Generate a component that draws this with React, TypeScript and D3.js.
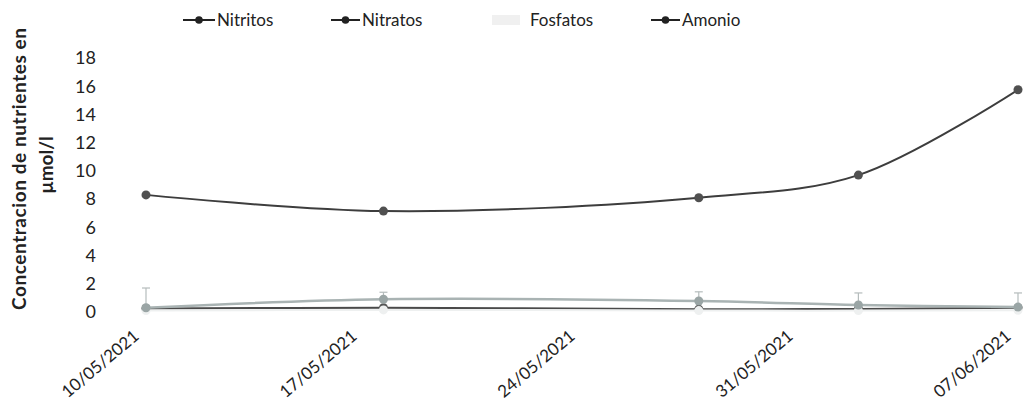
import React from "react";
import * as d3 from "d3";

const dates = ["2021-05-10T00:00", "2021-05-17T15:00", "2021-05-27T18:00", "2021-06-01T21:00", "2021-06-07T00:00"];
const tickDates = ["2021-05-10", "2021-05-17", "2021-05-24", "2021-05-31", "2021-06-07"];
const tickLabels = ["10/05/2021", "17/05/2021", "24/05/2021", "31/05/2021", "07/06/2021"];
const nitritos = [0.25, 0.3, 0.2, 0.22, 0.3];
const nitratos = [0.3, 0.9, 0.78, 0.5, 0.35];
const nitratosErr = [1.4, 0.5, 0.65, 0.85, 1.0];
const fosfatos = [0.1, 0.15, 0.1, 0.1, 0.12];
const amonio = [8.3, 7.15, 8.1, 9.7, 15.75];
const yTicks = [0, 2, 4, 6, 8, 10, 12, 14, 16, 18];

const W = 1024, H = 416;
const FONT = "Lato, 'Open Sans', sans-serif";

export default function App() {
  const parse = (s: string) => new Date(s);
  const x = d3.scaleTime().domain([parse(tickDates[0]), parse(tickDates[4])]).range([146, 1018]);
  const y = d3.scaleLinear().domain([0, 18]).range([312, 58]);
  const xs = dates.map(parse);
  const smooth = d3.line<number>().x((_, i) => x(xs[i])).y(d => y(d)).curve(d3.curveCatmullRom.alpha(0.5));

  const series = [
    { name: "Nitritos", vals: nitritos, color: "#4a4a4a", marker: "#555", w: 2 },
    { name: "Fosfatos", vals: fosfatos, color: "#eef0f0", marker: "#eef0f0", w: 2 },
    { name: "Nitratos", vals: nitratos, color: "#a9b3b3", marker: "#9aa5a5", w: 2.5 },
    { name: "Amonio", vals: amonio, color: "#3d3d3d", marker: "#505050", w: 2 },
  ];

  const legend = [
    { name: "Nitritos", lx: 183, tx: 217, color: "#222", line: true },
    { name: "Nitratos", lx: 331, tx: 362, color: "#222", line: true },
    { name: "Fosfatos", lx: 492, tx: 530, color: "#f0f0f0", line: false },
    { name: "Amonio", lx: 651, tx: 682, color: "#222", line: true },
  ];

  return (
    <svg width={W} height={H} style={{ position: "absolute", left: 0, top: 0, background: "#fff" }} fontFamily={FONT}>
      {/* legend */}
      {legend.map(l => (
        <g key={l.name}>
          {l.line ? (
            <g>
              <line x1={l.lx} x2={l.tx - 2} y1={20} y2={20} stroke={l.color} strokeWidth={2} />
              <circle cx={(l.lx + l.tx - 2) / 2} cy={20} r={3.8} fill={l.color} />
            </g>
          ) : (
            <rect x={l.lx} y={15} width={28} height={10} fill={l.color} />
          )}
          <text x={l.tx} y={26} fontSize={17} fill="#222">{l.name}</text>
        </g>
      ))}

      {/* y axis title */}
      <text transform={`translate(26,169) rotate(-90)`} textAnchor="middle" fontSize={19} fontWeight={700} fill="#222"
        textLength={282} lengthAdjust="spacing">
        Concentracion de nutrientes en
      </text>
      <text transform={`translate(53,165) rotate(-90)`} textAnchor="middle" fontSize={19} fontWeight={700} fill="#222">
        µmol/l
      </text>

      {/* y ticks */}
      {yTicks.map(t => (
        <text key={t} x={96} y={y(t)} dy="0.35em" textAnchor="end" fontSize={18} fill="#222">{t}</text>
      ))}

      {/* x tick labels */}
      {tickDates.map((d, i) => (
        <text key={d} transform={`translate(${x(parse(d)) - 6},${338}) rotate(-40)`} textAnchor="end" fontSize={17} fill="#222">
          {tickLabels[i]}
        </text>
      ))}

      {/* error bars for Nitratos */}
      {nitratos.map((v, i) => (
        <g key={"e" + i} stroke="#b5bcbc" strokeWidth={1.2}>
          <line x1={x(xs[i])} x2={x(xs[i])} y1={y(v)} y2={y(v + nitratosErr[i])} />
          <line x1={x(xs[i]) - 4} x2={x(xs[i]) + 4} y1={y(v + nitratosErr[i])} y2={y(v + nitratosErr[i])} />
        </g>
      ))}

      {/* series */}
      {series.map(s => (
        <g key={s.name}>
          <path d={smooth(s.vals) || ""} fill="none" stroke={s.color} strokeWidth={s.w} />
          {s.vals.map((v, i) => (
            <circle key={i} cx={x(xs[i])} cy={y(v)} r={4.5} fill={s.marker} />
          ))}
        </g>
      ))}
    </svg>
  );
}
